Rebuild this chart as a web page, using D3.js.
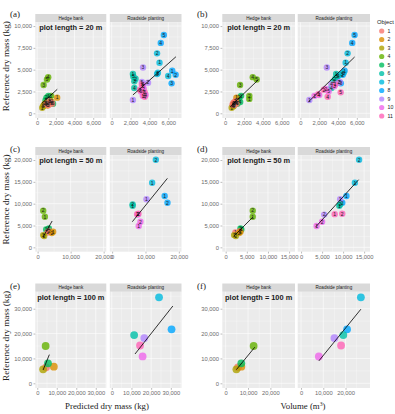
<!DOCTYPE html>
<html>
<head>
<meta charset="utf-8">
<script src="https://cdn.jsdelivr.net/npm/d3@7"></script>
<style>
  body { margin: 0; background: #fff; }
  svg { display: block; }
</style>
</head>
<body>
<div id="chart"></div>
<script>
// colours of the 11 objects (ggplot hue palette)
var objects = ["1","2","3","4","5","6","7","8","9","10","11"];
var objColors = ["#F8766D","#DB8E00","#AEA200","#64B200","#00BD5C","#00C1A7",
                 "#00BADE","#00A6FF","#B385FF","#EF67EB","#FF63B6"];
var facetNames = ["Hedge bank", "Roadside planting"];

// rows: [object, plot no., reference dry mass, predicted dry mass, volume]
// objects 1-5 are hedge banks, 6-11 roadside plantings
var plots20 = [
  [4,4,4140,1180,2930],[4,5,3870,1050,3350],[4,3,3250,690,1590],[4,2,2000,1500,2570],[4,1,1650,1300,2570],
  [5,1,2000,1200,1700],[5,2,1800,1000,1500],[5,3,1500,900,1400],[5,4,1300,1400,1600],[5,5,1100,1700,1300],
  [2,1,1790,2140,1200],[2,2,1330,1540,1100],[2,3,1100,1200,900],[2,4,1000,900,1000],[2,5,900,1100,850],
  [3,1,640,540,700],[3,2,900,700,850],[3,3,1100,800,1000],[3,4,1200,1000,1200],[3,5,800,650,900],
  [1,1,1200,1500,900],[1,2,1000,1000,800],[1,3,1400,1300,1100],[1,4,1100,1600,1200],[1,5,950,1200,950],
  [8,5,8970,5530,5760],[8,4,8070,5200,5510],[8,1,4880,6420,4700],[8,2,4420,6780,4500],[8,3,3430,6350,4300],
  [7,2,6870,4810,5020],[7,1,5800,5070,4810],[7,3,4500,4810,4400],[7,4,4270,5990,4000],[7,5,4650,4900,4600],
  [6,1,4500,2250,3800],[6,2,3960,2530,3700],[6,3,3660,2400,3500],[6,4,2900,2400,3300],[6,5,4200,2300,3900],
  [9,3,5250,3320,2810],[9,1,1520,2250,950],[9,2,3510,3850,4100],[9,4,3300,3300,3300],[9,5,3600,3200,4200],
  [10,1,2000,3300,1500],[10,2,2800,3400,2700],[10,3,3100,3300,3600],[10,4,2100,3600,2000],[10,5,2500,3100,3000],
  [11,5,2400,3500,4280],[11,1,3300,3200,3700],[11,2,2700,3000,2500],[11,3,2200,3400,1900],[11,4,1900,3500,2900]
];
var plots50 = [
  [4,2,8400,1700,6400],[4,1,7000,2200,6400],
  [5,1,4100,2600,3700],[5,2,4300,3400,3500],
  [1,1,3400,3000,2300],[1,2,3700,3500,3400],
  [2,1,3570,4700,3500],[2,2,3300,4300,3200],
  [3,1,2800,1700,2000],[3,2,2600,2000,2400],
  [7,2,20050,13100,13800],[7,1,14800,12000,12800],
  [8,1,11750,15750,10800],[8,2,10200,16600,9800],
  [9,1,11000,10300,9300],[9,2,7500,7700,5500],
  [6,2,9850,6150,9300],[6,1,9500,6150,9100],
  [11,1,7600,7500,8000],[11,2,7700,7900,9800],
  [10,2,5870,8480,5000],[10,1,4880,7970,3700]
];
var plots100 = [
  [1,1,6430,4500,5500],[2,1,6680,8500,7000],[3,1,5630,3000,4800],[4,1,15000,4300,12500],[5,1,8040,5500,7000],
  [7,1,34580,24000,26900],[8,1,21700,30350,20700],[6,1,19400,11350,19000],
  [9,1,18200,16500,15000],[11,1,15200,14350,18000],[10,1,10800,15650,8000]
];

// fitted lines: [x1, y1, x2, y2] for hedge bank, roadside planting
var fitA = [[500,1150,2150,2750],[2250,2100,6810,6480]];
var fitB = [[530,750,3520,3840],[870,1330,5760,6450]];
var fitC = [[1700,2430,4400,6030],[6060,5870,16570,15800]];
var fitD = [[2000,2600,6400,6900],[3500,4700,13700,15500]];
var fitE = [[3000,5360,6200,11530],[11800,11780,31000,31080]];
var fitF = [[4800,5500,13000,14500],[8000,9000,26900,29800]];

// tick values
var ticks20x = [0,2000,4000,6000];
var ticks50xPred = [0,10000,20000];
var ticks50xVol = [0,5000,10000,15000];
var ticks100xPred = [0,10000,20000,30000];
var ticks100xVol = [0,10000,20000];
var ticks20y = [0,2500,5000,7500,10000];
var ticks50y = [0,5000,10000,15000,20000];
var ticks100y = [0,10000,20000,30000];

var lengthLabels = ["plot length = 20 m", "plot length = 50 m", "plot length = 100 m"];

// layout
var W = 395, H = 414;
var cols = [
  { hedge: [35.3, 106.3], road: [109.8, 181.5], tagX: 10 },
  { hedge: [222.3, 295], road: [297.7, 370], tagX: 197 }
];
var rows = [
  { strip: 14, top: 22.3, bottom: 118, tagY: 16.5 },
  { strip: 147, top: 155.3, bottom: 251.7, tagY: 151.5 },
  { strip: 283.5, top: 291.8, bottom: 388, tagY: 288.5 }
];

var subplots = [
  { tag: "(a)", col: 0, row: 0, data: plots20, xi: 3, xDomain: [-200, 7400], xTicks: ticks20x, yDomain: [-540, 10430], yTicks: ticks20y, fit: fitA, label: lengthLabels[0], nums: true },
  { tag: "(b)", col: 1, row: 0, data: plots20, xi: 4, xDomain: [-290, 7400], xTicks: ticks20x, yDomain: [-540, 10430], yTicks: ticks20y, fit: fitB, label: lengthLabels[0], nums: true },
  { tag: "(c)", col: 0, row: 1, data: plots50, xi: 3, xDomain: [-700, 20800], xTicks: ticks50xPred, yDomain: [-1000, 21080], yTicks: ticks50y, fit: fitC, label: lengthLabels[1], nums: true },
  { tag: "(d)", col: 1, row: 1, data: plots50, xi: 4, xDomain: [-800, 16400], xTicks: ticks50xVol, yDomain: [-1000, 21080], yTicks: ticks50y, fit: fitD, label: lengthLabels[1], nums: true },
  { tag: "(e)", col: 0, row: 2, data: plots100, xi: 3, xDomain: [-1000, 35400], xTicks: ticks100xPred, yDomain: [-1890, 36800], yTicks: ticks100y, fit: fitE, label: lengthLabels[2], nums: false },
  { tag: "(f)", col: 1, row: 2, data: plots100, xi: 4, xDomain: [-1500, 31000], xTicks: ticks100xVol, yDomain: [-1890, 36800], yTicks: ticks100y, fit: fitF, label: lengthLabels[2], nums: false }
];

var fmt = d3.format(",");
var color = d3.scaleOrdinal().domain(d3.range(1, 12)).range(objColors);

var svg = d3.select("#chart").append("svg")
  .attr("width", W)
  .attr("height", H);

svg.append("rect").attr("width", W).attr("height", H).attr("fill", "#fff");

function minorBreaks(t) {
  var out = [];
  var step = t[1] - t[0];
  for (var i = -1; i < t.length; i++) out.push(t[0] + step * (i + 0.5));
  return out;
}

subplots.forEach(function(sp) {
  var c = cols[sp.col], r = rows[sp.row];
  var y = d3.scaleLinear().domain(sp.yDomain).range([r.bottom, r.top]);

  // panel tag
  svg.append("text")
    .attr("x", c.tagX)
    .attr("y", r.tagY)
    .attr("font-family", "Liberation Serif, serif")
    .attr("font-size", 9)
    .attr("fill", "#222")
    .text(sp.tag);

  ["hedge", "road"].forEach(function(key, fi) {
    var x = d3.scaleLinear().domain(sp.xDomain).range(c[key]);
    var g = svg.append("g");
    var pw = c[key][1] - c[key][0];

    // strip
    g.append("rect")
      .attr("x", c[key][0]).attr("y", r.strip)
      .attr("width", pw).attr("height", r.top - r.strip)
      .attr("fill", "#D9D9D9");
    g.append("text")
      .attr("x", c[key][0] + pw / 2).attr("y", r.strip + 5.6)
      .attr("text-anchor", "middle")
      .attr("font-family", "Liberation Sans, Arial, sans-serif")
      .attr("font-size", 4.6)
      .attr("fill", "#1A1A1A")
      .text(facetNames[fi]);

    // panel background
    g.append("rect")
      .attr("x", c[key][0]).attr("y", r.top)
      .attr("width", pw).attr("height", r.bottom - r.top)
      .attr("fill", "#EBEBEB");

    // grid
    var xMin = minorBreaks(sp.xTicks).filter(function(v) { return v > sp.xDomain[0] && v < sp.xDomain[1]; });
    var yMin = minorBreaks(sp.yTicks).filter(function(v) { return v > sp.yDomain[0] && v < sp.yDomain[1]; });
    g.selectAll(".xminor").data(xMin).enter().append("line")
      .attr("x1", d => x(d)).attr("x2", d => x(d))
      .attr("y1", r.top).attr("y2", r.bottom)
      .attr("stroke", "#fff").attr("stroke-width", 0.3);
    g.selectAll(".yminor").data(yMin).enter().append("line")
      .attr("x1", c[key][0]).attr("x2", c[key][1])
      .attr("y1", d => y(d)).attr("y2", d => y(d))
      .attr("stroke", "#fff").attr("stroke-width", 0.3);
    g.selectAll(".xmajor").data(sp.xTicks).enter().append("line")
      .attr("x1", d => x(d)).attr("x2", d => x(d))
      .attr("y1", r.top).attr("y2", r.bottom)
      .attr("stroke", "#fff").attr("stroke-width", 0.6);
    g.selectAll(".ymajor").data(sp.yTicks).enter().append("line")
      .attr("x1", c[key][0]).attr("x2", c[key][1])
      .attr("y1", d => y(d)).attr("y2", d => y(d))
      .attr("stroke", "#fff").attr("stroke-width", 0.6);

    // x axis
    var xAxis = d3.axisBottom(x).tickValues(sp.xTicks).tickFormat(fmt).tickSize(1.8).tickPadding(1.5);
    var xa = g.append("g").attr("transform", "translate(0," + r.bottom + ")").call(xAxis);
    xa.select(".domain").remove();
    xa.selectAll("line").attr("stroke", "#555").attr("stroke-width", 0.4);
    xa.selectAll("text")
      .attr("font-family", "Liberation Sans, Arial, sans-serif")
      .attr("font-size", 5.8)
      .attr("fill", "#6b6b6b");

    // y axis on hedge panel only
    if (fi === 0) {
      var yAxis = d3.axisLeft(y).tickValues(sp.yTicks).tickFormat(fmt).tickSize(1.8).tickPadding(1.5);
      var ya = g.append("g").attr("transform", "translate(" + c[key][0] + ",0)").call(yAxis);
      ya.select(".domain").remove();
      ya.selectAll("line").attr("stroke", "#555").attr("stroke-width", 0.4);
      ya.selectAll("text")
        .attr("font-family", "Liberation Sans, Arial, sans-serif")
        .attr("font-size", 5.8)
        .attr("fill", "#6b6b6b");

      g.append("text")
        .attr("x", c[key][0] + pw / 2)
        .attr("y", r.top + 7.8)
        .attr("text-anchor", "middle")
        .attr("font-family", "Liberation Sans, Arial, sans-serif")
        .attr("font-weight", "bold")
        .attr("font-size", 7.4)
        .attr("fill", "#1A1A1A")
        .text(sp.label);
    }

    // points
    var pts = sp.data.filter(function(d) { return fi === 0 ? d[0] <= 5 : d[0] > 5; });
    var rad = sp.nums ? 3.2 : 3.9;
    g.selectAll(".pt").data(pts).enter().append("circle")
      .attr("cx", d => x(d[sp.xi]))
      .attr("cy", d => y(d[2]))
      .attr("r", rad)
      .attr("fill", d => color(d[0]))
      .attr("fill-opacity", 0.8);
    if (sp.nums) {
      g.selectAll(".lab").data(pts).enter().append("text")
        .attr("x", d => x(d[sp.xi]))
        .attr("y", d => y(d[2]) + 1.8)
        .attr("text-anchor", "middle")
        .attr("font-family", "Liberation Sans, Arial, sans-serif")
        .attr("font-size", 5)
        .attr("fill", "#1a1a1a")
        .text(d => d[1]);
    }

    // fitted line
    var f = sp.fit[fi];
    g.append("line")
      .attr("x1", x(f[0])).attr("y1", y(f[1]))
      .attr("x2", x(f[2])).attr("y2", y(f[3]))
      .attr("stroke", "#000").attr("stroke-width", 0.8);
  });

  // y title on left column
  if (sp.col === 0) {
    svg.append("text")
      .attr("transform", "translate(9," + ((r.top + r.bottom) / 2 - 4) + ") rotate(-90)")
      .attr("text-anchor", "middle")
      .attr("font-family", "Liberation Serif, serif")
      .attr("font-size", 9.2)
      .attr("fill", "#222")
      .text("Reference dry mass (kg)");
  }
});

// x titles
svg.append("text")
  .attr("x", 107).attr("y", 409)
  .attr("text-anchor", "middle")
  .attr("font-family", "Liberation Serif, serif")
  .attr("font-size", 8.8).attr("fill", "#222")
  .text("Predicted dry mass (kg)");
var vt = svg.append("text")
  .attr("x", 303).attr("y", 409)
  .attr("text-anchor", "middle")
  .attr("font-family", "Liberation Serif, serif")
  .attr("font-size", 8.8).attr("fill", "#222");
vt.append("tspan").text("Volume (m");
vt.append("tspan").attr("font-size", 5.6).attr("dy", -3.3).text("3");
vt.append("tspan").attr("dy", 3.3).text(")");

// legend
var lg = svg.append("g");
lg.append("text")
  .attr("x", 377).attr("y", 24)
  .attr("font-family", "Liberation Sans, Arial, sans-serif")
  .attr("font-size", 5.8).attr("fill", "#1A1A1A")
  .text("Object");
var ly = d3.scalePoint().domain(objects).range([31, 116]);
lg.selectAll(".key").data(objects).enter().append("circle")
  .attr("cx", 381.7).attr("cy", d => ly(d))
  .attr("r", 2.6)
  .attr("fill", (d, i) => objColors[i])
  .attr("fill-opacity", 0.8);
lg.selectAll(".klab").data(objects).enter().append("text")
  .attr("x", 387.5).attr("y", d => ly(d) + 1.9)
  .attr("font-family", "Liberation Sans, Arial, sans-serif")
  .attr("font-size", 5.2).attr("fill", "#1A1A1A")
  .text(d => d);
</script>
</body>
</html>
